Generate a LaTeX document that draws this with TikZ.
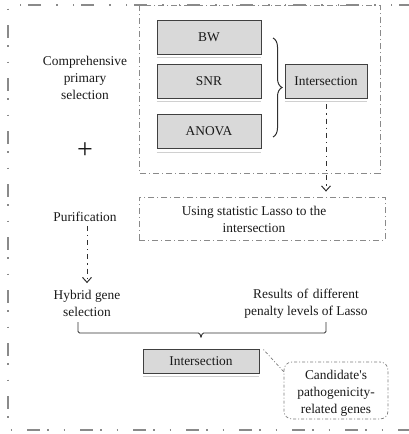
\documentclass[tikz,border=0pt]{standalone}
\usepackage{fontspec}
\setmainfont{Liberation Serif}
\newfontfamily\plainrm{Liberation Serif}
\usetikzlibrary{arrows.meta,decorations.pathreplacing}
\definecolor{framegray}{HTML}{8A8A8A}
\definecolor{boxfill}{HTML}{D9D9D9}
\definecolor{boxline}{HTML}{404040}
\definecolor{shadowgray}{HTML}{D0D0D0}
\definecolor{arrowgray}{HTML}{303030}
\begin{document}
\begin{tikzpicture}[x=1pt,y=-1pt,
  every node/.style={font=\fontsize{13.4}{17}\selectfont, align=center, inner sep=0pt, text=black!90},
  gbox/.style={draw=boxline, fill=boxfill, line width=0.9pt, minimum width=104pt, minimum height=34pt},
  outerframe/.style={draw=framegray, line width=1.5pt, dash pattern=on 13pt off 7pt on 1.5pt off 15pt on 1.5pt off 15pt},
  innerframe/.style={draw=framegray, line width=0.8pt, dash pattern=on 6pt off 3pt on 1pt off 3pt},
  dotframe/.style={draw=framegray!90!black, line width=0.7pt, dash pattern=on 1pt off 2pt on 3pt off 2pt},
  arr/.style={draw=arrowgray, line width=1pt, dash pattern=on 5pt off 4pt on 1.2pt off 4pt, -{Straight Barb[length=5pt,width=9pt,line width=1pt]}},
  shadowline/.style={draw=shadowgray, line width=0.8pt}
]
\useasboundingbox (0,0) rectangle (408,434);
% outer frame
\draw[outerframe] (412,5) -- (8,5) -- (8,430) -- (412,430);
% inner frame and lasso box
\draw[innerframe] (139,5) rectangle (380,173);
\node[innerframe, minimum width=246pt, minimum height=43pt] (lasso) at (262,218.5) {};
\node (lassotxt) at (254,219) {Using statistic Lasso to the\\intersection};
% method boxes
\node[gbox] (bw) at (209,37) {BW};
\node[gbox] (snr) at (209,81) {SNR};
\node[gbox] (anova) at (209,131.5) {ANOVA};
\node[gbox, minimum width=82pt] (inter) at (326,81) {Intersection};
\foreach \n in {bw,snr,anova,inter}{
  \draw[shadowline] ([yshift=-3pt]\n.south west) -- ([yshift=-3pt]\n.south east);
}
% brace
\draw[line width=1pt, draw=arrowgray, decorate, decoration={brace, amplitude=9pt}] (273,38) -- (273,137);
% left texts
\node (comp) at (85,78) {Comprehensive\\primary\\selection};
\node[font=\fontsize{28}{28}\selectfont] (plus) at (85,151) {+};
\node (purif) at (85,217) {Purification};
\node (hybrid) at (87,303.5) {Hybrid gene\\selection};
\node (results) at (306,303.5) {\spaceskip=4.5pt\relax Results of different\\penalty levels of Lasso};
% arrows
\draw[arr] ([yshift=-6pt]inter.south) -- ([yshift=5pt]lasso.north -| inter.south);
\draw[arr] ([yshift=-4pt]purif.south -| hybrid.north) -- ([yshift=7pt]hybrid.north);
% bottom intersection
\node[gbox, minimum width=116pt, minimum height=24pt] (inter2) at (201,361) {Intersection};
\draw[shadowline] ([yshift=-3pt]inter2.south west) -- ([yshift=-3pt]inter2.south east);
% bracket
\coordinate (bl) at (78,322);
\coordinate (br) at (326,322);
\draw[draw=arrowgray, line width=0.9pt, rounded corners=1.5pt]
  (bl) -- (78,333) -- (197,333) to[out=0,in=90] ([yshift=11pt]inter2.north)
  ([yshift=11pt]inter2.north) to[out=90,in=180] (205,333) -- (326,333) -- (br);
% callout
\node[dotframe, rounded corners=8pt, minimum width=104pt, minimum height=57pt] (cand) at (336,390.5) {};
\node (candtxt) at (336,393) {Candidate{\plainrm'}s\\pathogenicity-\\related genes};
\draw[dotframe] ([xshift=4pt,yshift=-1pt]inter2.north east) -- ([yshift=-10pt]cand.north west);
\end{tikzpicture}
\end{document}
